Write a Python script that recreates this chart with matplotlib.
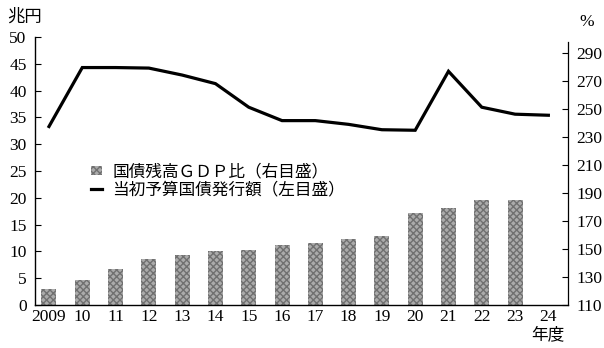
import matplotlib
matplotlib.use("Agg")
import matplotlib.pyplot as plt
from matplotlib.patches import Patch
from matplotlib.lines import Line2D

plt.rcParams['font.family'] = ['Liberation Serif', 'Noto Sans CJK JP']

# data
years = ["2009", "10", "11", "12", "13", "14", "15", "16",
         "17", "18", "19", "20", "21", "22", "23", "24"]
issuance = [33.3, 44.3, 44.3, 44.2, 42.9, 41.3, 36.9, 34.4,
            34.4, 33.7, 32.7, 32.6, 43.6, 36.9, 35.6, 35.4]   # 兆円 (left)
debt_gdp = [121.5, 127.5, 135.5, 142.5, 146.0, 148.5, 149.5, 152.5,
            154.0, 157.0, 159.0, 176.0, 179.5, 185.3, 185.3]   # % (right), no 2024
bar_base = 110

W, H = 604, 348
fig = plt.figure(figsize=(W / 100, H / 100), dpi=100)
fig.subplots_adjust(left=35 / W, right=568 / W, top=1 - 37 / H, bottom=1 - 305 / H)
ax = fig.add_subplot(111)
ax2 = ax.twinx()

x = list(range(len(years)))

# bars on right axis
ax2.bar(x[:len(debt_gdp)], [v - bar_base for v in debt_gdp], bottom=bar_base,
        width=0.45, facecolor="#ababab", edgecolor="#707070", linewidth=0,
        hatch="xxxxx")
ax2.set_ylim(bar_base, bar_base + 268 / 1.4)
ax2.set_yticks(range(110, 291, 20))
ax2.spines['right'].set_bounds(110, 298)
for s in ['top', 'left', 'bottom']:
    ax2.spines[s].set_visible(False)
ax2.tick_params(axis='y', direction='in', length=4, width=0.8, pad=6, labelsize=12.5)

# line on left axis
ax.set_zorder(ax2.get_zorder() + 1)
ax.patch.set_visible(False)
ax.plot(x, issuance, color="black", linewidth=2.3, solid_joinstyle='miter')
ax.set_ylim(0, 50)
ax.set_yticks(range(0, 51, 5))
ax.set_xlim(-0.42, 15.59)
ax.set_xticks(x)
ax.set_xticklabels(years)
ax.spines['top'].set_visible(False)
ax.spines['right'].set_visible(False)
ax.spines['left'].set_bounds(0, 50)
ax.tick_params(axis='y', direction='in', length=4, width=0.8, pad=6, labelsize=12.5)
ax.tick_params(axis='x', length=0, pad=3, labelsize=12.5)
for s in ['left', 'bottom']:
    ax.spines[s].set_linewidth(1.0)
ax2.spines['right'].set_linewidth(0.9)

# legend
handles = [
    Patch(facecolor="#ababab", edgecolor="#707070", linewidth=0, hatch="xxxxx"),
    Line2D([], [], color="black", linewidth=2.3),
]
labels = ["国債残高ＧＤＰ比（右目盛）", "当初予算国債発行額（左目盛）"]
ax.legend(handles, labels, loc="upper left", bbox_to_anchor=(0.09, 0.555),
          frameon=False, fontsize=12, handlelength=0.65, handleheight=0.5,
          handletextpad=0.6, labelspacing=0.12, borderpad=0)

# axis unit labels
fig.text(25 / W, 1 - 17 / H, "兆円", ha="center", va="center", fontsize=12.5)
fig.text(587 / W, 1 - 22 / H, "%", ha="center", va="center", fontsize=12.5)
fig.text(548 / W, 1 - 335 / H, "年度", ha="center", va="center", fontsize=12)

fig.savefig("out.png", dpi=100)
